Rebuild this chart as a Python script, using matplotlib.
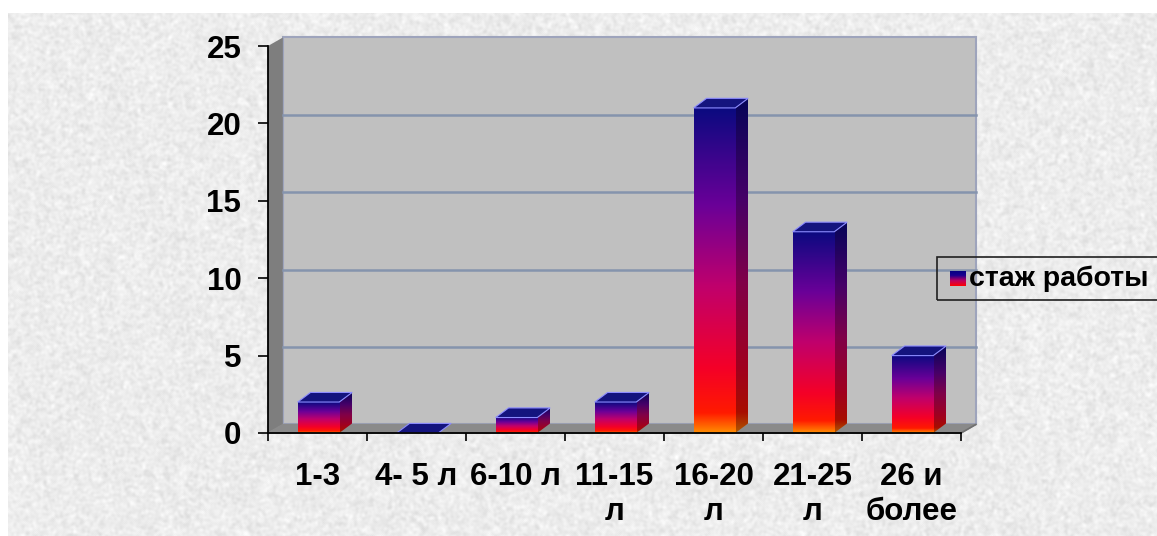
import numpy as np
import matplotlib.pyplot as plt
from matplotlib.patches import Polygon, Rectangle
from matplotlib.colors import LinearSegmentedColormap

# данные диаграммы
categories = ['1-3', '4- 5 л', '6-10 л', '11-15\nл', '16-20\nл', '21-25\nл', '26 и\nболее']
values = [2, 0, 1, 2, 21, 13, 5]
yticks = [0, 5, 10, 15, 20, 25]
series_name = 'стаж работы'

plt.rcParams['font.family'] = ['Liberation Sans', 'DejaVu Sans']
FS = 22.5

W, H = 1157, 536
fig = plt.figure(figsize=(W / 100, H / 100), dpi=100)
fig.patch.set_facecolor('white')

# фон "гранит" (детерминированная текстура)
bg = fig.add_axes([8 / W, 0, 1 - 8 / W, 1 - 13 / H])
yy, xx = np.mgrid[0:523, 0:1149].astype(float)
h = np.sin(xx * 12.9898 + yy * 78.233) * 43758.5453
tex = h - np.floor(h)
for _ in range(4):
    tex = (tex + np.roll(tex, 1, 0) + np.roll(tex, -1, 0) + np.roll(tex, 1, 1) + np.roll(tex, -1, 1)) / 5
tex = (tex - tex.min()) / (tex.max() - tex.min())
bg.imshow(0.85 + 0.15 * tex, cmap='gray', vmin=0, vmax=1, aspect='auto', interpolation='bilinear')
bg.axis('off')

# основная ось
ax = fig.add_axes([268 / W, 1 - 433 / H, 693 / W, 387 / H])
ax.patch.set_visible(False)
n = len(categories)
wx, wy = 0.15, 0.55   # смещение задней стенки
bx, by = 0.13, 0.62   # глубина столбцов

# стенки и пол
ax.add_patch(Polygon([(wx, wy), (n + wx, wy), (n + wx, 25 + wy), (wx, 25 + wy)],
                     closed=True, fc='#c0c0c0', ec='#9ea4bc', lw=1.5, zorder=0.5, clip_on=False))
ax.add_patch(Polygon([(0, 0), (wx, wy), (wx, 25 + wy), (0, 25)],
                     closed=True, fc='#7e7e7e', ec='none', zorder=0.55, clip_on=False))
ax.add_patch(Polygon([(0, 0), (n, 0), (n + wx, wy), (wx, wy)],
                     closed=True, fc='#8a8a8a', ec='#8a8a8a', zorder=0.7, clip_on=False))
for v in yticks[1:-1]:
    ax.plot([wx, n + wx], [v + wy, v + wy], color='#8594ad', lw=1.8, zorder=0.6, clip_on=False)

# градиент столбцов
grad = LinearSegmentedColormap.from_list('bar', [
    (0.0, '#ff8c00'), (0.06, '#ff1a00'), (0.2, '#f40028'), (0.45, '#c0006c'),
    (0.7, '#6a0098'), (1.0, '#0a0a80')])
side = LinearSegmentedColormap.from_list('side', [
    (0.0, '#b05a00'), (0.06, '#a80e00'), (0.2, '#a00020'), (0.45, '#800048'),
    (0.7, '#460068'), (1.0, '#050558')])
g = np.linspace(0, 1, 256).reshape(-1, 1)

for i, v in enumerate(values):
    x0, x1 = i + 0.30, i + 0.72
    top = Polygon([(x0, v), (x1, v), (x1 + bx, v + by), (x0 + bx, v + by)],
                  closed=True, fc='#14147e', ec='#8c8cff', lw=0.8, zorder=3)
    ax.add_patch(top)
    if v <= 0:
        continue
    ax.imshow(g, cmap=grad, origin='lower', extent=[x0, x1, 0, v],
              aspect='auto', zorder=2.5, interpolation='bilinear')
    sp = Polygon([(x1, 0), (x1 + bx, by), (x1 + bx, v + by), (x1, v)], closed=True,
                 fc='none', ec='none', transform=ax.transData)
    ax.add_patch(sp)
    im2 = ax.imshow(g, cmap=side, origin='lower', extent=[x1, x1 + bx, 0, v + by],
                    aspect='auto', zorder=2.4, interpolation='bilinear')
    im2.set_clip_path(sp)

ax.plot([n, n + wx], [0, wy], color='#707070', lw=1.2, zorder=0.8, clip_on=False)

ax.set_xlim(0, n)
ax.set_ylim(0, 25)
for s in ['top', 'right']:
    ax.spines[s].set_visible(False)
for s in ['left', 'bottom']:
    ax.spines[s].set_color('black')
    ax.spines[s].set_linewidth(1.3)
    ax.spines[s].set_zorder(4)

ax.set_yticks(yticks)
ax.set_yticklabels([str(t) for t in yticks], fontsize=FS, fontweight='bold')
ax.tick_params(axis='y', direction='out', length=7.2, width=1.2, pad=12)

ax.set_xticks(range(n + 1))
ax.set_xticklabels([])
ax.tick_params(axis='x', which='major', direction='out', length=6, width=1.2)
ax.set_xticks([i + 0.5 for i in range(n)], minor=True)
ax.set_xticklabels(categories, minor=True, fontsize=FS, fontweight='bold', linespacing=1.2, va='top')
ax.tick_params(axis='x', which='minor', length=0, pad=21)

# легенда
fig.patches.append(Rectangle((937 / W, 1 - 300 / H), 240 / W, 43 / H, transform=fig.transFigure,
                             fc='none', ec='#202020', lw=1.2, zorder=5))
lg = fig.add_axes([950 / W, 1 - 286 / H, 15 / W, 15 / H])
lg.imshow(g, cmap=LinearSegmentedColormap.from_list('lg', ['#ff0000', '#c00060', '#1a0090', '#000080']),
          origin='lower', aspect='auto', extent=[0, 1, 0, 1])
lg.axis('off')
fig.text(969 / W, 1 - 279 / H, series_name, fontsize=20.5, fontweight='bold', va='center', ha='left')

fig.savefig('out.png', dpi=100)
